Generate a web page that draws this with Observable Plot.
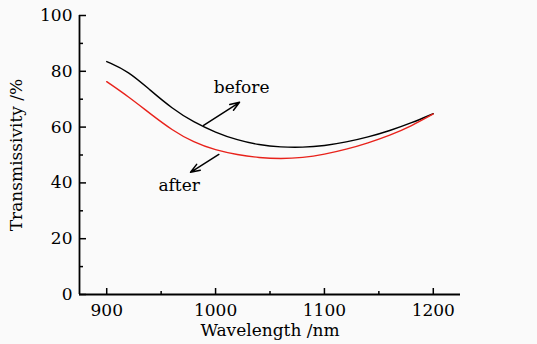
<!DOCTYPE html>
<html><head><meta charset="utf-8">
<script src="https://cdn.jsdelivr.net/npm/d3@7"></script>
<script src="https://cdn.jsdelivr.net/npm/@observablehq/plot@0.6"></script>
<style>html,body{margin:0;padding:0;background:#fafafa;overflow:hidden}</style>
</head><body><div id="chart"></div>
<script>
// Data
const wavelength = [900,920,940,960,980,1000,1020,1040,1060,1080,1100,1120,1140,1160,1180,1200];
const before = [83.5,80.0,73.2,66.7,61.7,58.1,55.3,53.6,52.8,52.7,53.3,54.6,56.4,58.7,61.5,64.8];
const after  = [76.3,70.9,64.8,58.9,54.5,51.7,50.1,49.0,48.6,49.0,50.2,52.0,54.3,57.0,60.4,64.7];
const seriesNames = ["before", "after"];
const seriesColors = ["#000000", "#e8221b"];

// Annotation arrows (data coordinates)
const annLabels = ["before", "after"];
const annFromX = [989, 1003];
const annFromY = [60.6, 50.2];
const annToX = [1022, 977];
const annToY = [68.9, 43.8];
const annTextX = [1024, 966.5];
const annTextY = [74.3, 39.1];

// Axes
const xTicks = [900, 1000, 1100, 1200];
const xMinor = [950, 1050, 1150];
const yTicks = [0, 20, 40, 60, 80, 100];
const yMinor = [10, 30, 50, 70, 90];
const xLabel = "Wavelength /nm";
const yLabel = "Transmissivity /%";

const rows = wavelength.flatMap((w, i) => [
  {w, t: before[i], s: "before"},
  {w, t: after[i], s: "after"}
]);
const ann = annLabels.map((l, i) => ({l, x1: annFromX[i], y1: annFromY[i], x2: annToX[i], y2: annToY[i], tx: annTextX[i], ty: annTextY[i]}));

const W = 537, H = 344;
const mL = 79, mR = 77, mT = 15, mB = 50;
const fw = W - mL - mR, fh = H - mT - mB;
const font = "DejaVu Serif";

const chart = Plot.plot({
  width: W, height: H,
  marginLeft: mL, marginRight: mR, marginTop: mT, marginBottom: mB,
  style: {background: "transparent", fontFamily: font, fontSize: "17px", color: "#000"},
  x: {domain: [875, 1225]},
  y: {domain: [0, 100]},
  color: {domain: seriesNames, range: seriesColors},
  marks: [
    Plot.axisX(xTicks, {tickSize: 0, tickPadding: 9, fontSize: 17, label: null, tickFormat: d => String(d)}),
    Plot.axisY(yTicks, {tickSize: 0, tickPadding: 7, fontSize: 17, label: null, tickFormat: d => String(d)}),
    Plot.tickX(xTicks, {x: d => d, insetTop: fh - 6, strokeWidth: 1.5}),
    Plot.tickX(xMinor, {x: d => d, insetTop: fh - 3, strokeWidth: 1.5}),
    Plot.tickY(yTicks, {y: d => d, insetRight: fw - 7, strokeWidth: 1.5}),
    Plot.tickY(yMinor, {y: d => d, insetRight: fw - 4, strokeWidth: 1.5}),
    Plot.ruleY([0], {strokeWidth: 1.8}),
    Plot.ruleX([875], {strokeWidth: 1.8}),
    Plot.line(rows, {x: "w", y: "t", z: "s", stroke: "s", strokeWidth: 1.4, curve: "basis"}),
    Plot.arrow(ann, {x1: "x1", y1: "y1", x2: "x2", y2: "y2", stroke: "#000", strokeWidth: 1.5, headLength: 10, headAngle: 40}),
    Plot.text(ann, {x: "tx", y: "ty", text: "l", fontSize: 17, fill: "#000"}),
    Plot.text([xLabel], {frameAnchor: "bottom", lineAnchor: "middle", textAnchor: "middle", dy: 36, text: d => d, fontSize: 17, fill: "#000"}),
    Plot.text([yLabel], {frameAnchor: "left", lineAnchor: "middle", textAnchor: "middle", dx: -63, rotate: -90, text: d => d, fontSize: 17, fill: "#000"})
  ]
});
document.getElementById("chart").appendChild(chart);
</script>
</body></html>
